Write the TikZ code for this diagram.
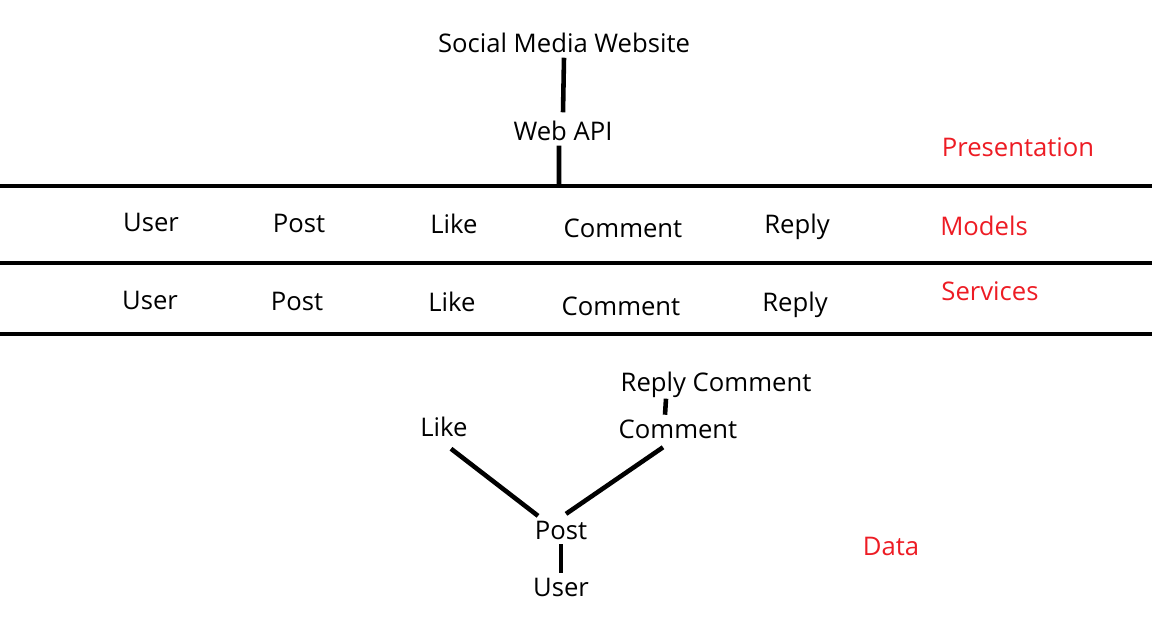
\documentclass[tikz,border=0pt]{standalone}
\usepackage{fontspec}
\setmainfont{Open Sans}
\usepackage{tikz}
\usetikzlibrary{positioning}

\definecolor{paintred}{RGB}{237,28,36}
\tikzset{
    lbl/.style={inner sep=2pt, font=\fontsize{14.6}{17}\selectfont},
    layer/.style={lbl, text=paintred},
    wire/.style={line width=2.6pt},
    divider/.style={line width=2.3pt}
}

\begin{document}
\begin{tikzpicture}[x=0.02cm, y=-0.02cm]
            \useasboundingbox (0, 0) rectangle (1152, 629);

            % top
            \node[lbl] (site) at (564, 43) {Social Media Website};
            \node[lbl] (api) at (563, 131) {Web API};
            \node[layer] (pres) at (1018, 147) {Presentation};

            % layer lines
            \coordinate (l1w) at (0, 186);
            \coordinate (l1e) at (1152, 186);
            \coordinate (l2w) at (0, 263);
            \coordinate (l2e) at (1152, 263);
            \coordinate (l3w) at (0, 334);
            \coordinate (l3e) at (1152, 334);
            \coordinate (apiend) at (559, 186);

            \draw [divider] (l1w) -- (l1e);
            \draw [divider] (l2w) -- (l2e);
            \draw [divider] (l3w) -- (l3e);

            \draw [wire] ([yshift=-0.02cm]site.south) -- ([yshift=0.1cm]api.north);
            \draw [wire] ([xshift=-0.08cm, yshift=-0.02cm]api.south) -- (apiend);

            % models
            \node[lbl] (mUser) at (151, 222) {User};
            \node[lbl] (mPost) at (299, 223) {Post};
            \node[lbl] (mLike) at (454, 224) {Like};
            \node[lbl] (mComment) at (623, 228) {Comment};
            \node[lbl] (mReply) at (797, 227) {Reply};
            \node[layer] (models) at (984, 226) {Models};

            % services
            \node[lbl] (sUser) at (150, 300) {User};
            \node[lbl] (sPost) at (297, 301) {Post};
            \node[lbl] (sLike) at (452, 302) {Like};
            \node[lbl] (sComment) at (621, 306) {Comment};
            \node[lbl] (sReply) at (795, 305) {Reply};
            \node[layer] (services) at (990, 291) {Services};

            % data
            \node[lbl] (dReplyC) at (716, 385) {Reply Comment};
            \node[lbl] (dComment) at (678, 429) {Comment};
            \node[lbl] (dLike) at (444, 427) {Like};
            \node[lbl] (dPost) at (561, 530) {Post};
            \node[lbl] (dUser) at (561, 587) {User};
            \node[layer] (data) at (891, 546) {Data};

            \draw [wire] ([xshift=-1cm, yshift=0.06cm]dReplyC.south) -- ([xshift=-0.26cm, yshift=0.02cm]dComment.north);
            \draw [wire] ([xshift=0.14cm, yshift=-0.16cm]dLike.south) -- ([xshift=0.14cm, yshift=0.02cm]dPost.north west);
            \draw [wire] ([xshift=-0.3cm, yshift=-0.1cm]dComment.south) -- ([xshift=0.1cm, yshift=0.06cm]dPost.north);
            \draw [wire] ([yshift=-0.02cm]dPost.south) -- ([yshift=0.02cm]dUser.north);
        \end{tikzpicture}
\end{document}
